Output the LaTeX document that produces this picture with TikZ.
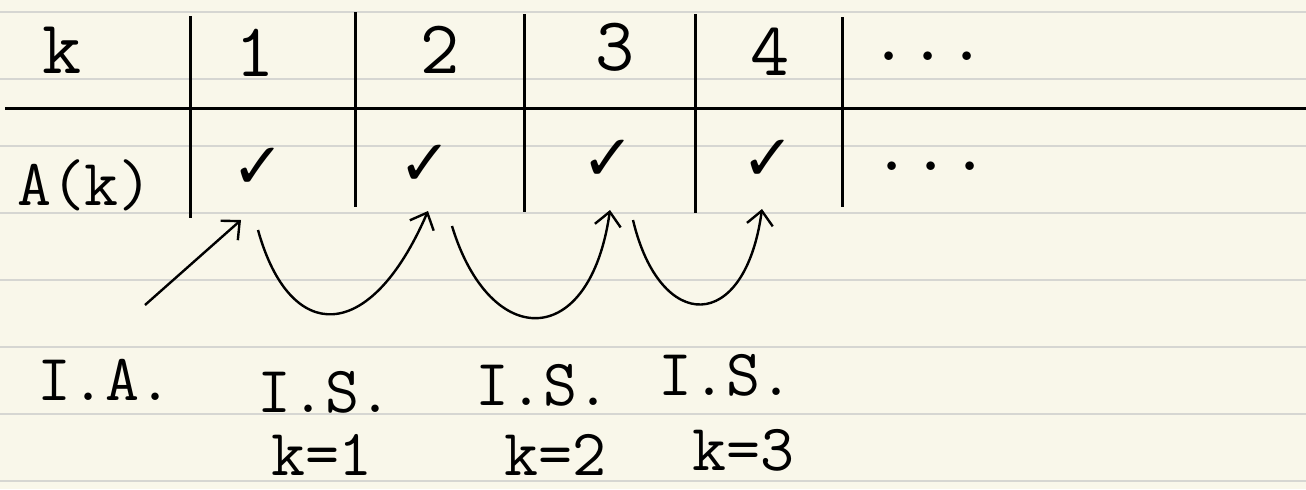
\documentclass[tikz,border=0pt]{standalone}
\usepackage{fontspec}
\newfontfamily\symfont{DejaVu Sans}
\usetikzlibrary{arrows.meta}
\definecolor{paper}{RGB}{249,247,234}
\definecolor{rule}{RGB}{214,214,210}
\tikzset{
  grid line/.style={line width=1.5pt, black},
  hand/.style={font=\ttfamily\fontsize{38}{42}\selectfont, inner sep=0pt},
  small hand/.style={font=\ttfamily\fontsize{33}{36}\selectfont, inner sep=0pt},
  tick/.style={font=\symfont\fontsize{32}{36}\selectfont, inner sep=0pt},
  jump/.style={line width=1.2pt, -{Straight Barb[length=7pt,width=13pt,line width=1.2pt]}}
}
\begin{document}
\begin{tikzpicture}[x=0.5pt, y=-0.5pt]
  % paper
  \fill[paper] (0,0) rectangle (1306,489);
  \useasboundingbox (0,0) rectangle (1306,489);
  \foreach \y in {11.5,78.5,145.5,212.5,280,347,413.5,480.5}
    \draw[rule, line width=1pt] (0,\y) -- (1306,\y);
  % table frame
  \draw[grid line] (5,108) -- (1306,108);
  \draw[grid line] (190,16) -- (190,218);
  \draw[grid line] (355,12) -- (355,207);
  \draw[grid line] (524,14) -- (524,212);
  \draw[grid line] (695,14) -- (695,213);
  \draw[grid line] (842,17) -- (842,207);
  % header row
  \node[hand] (hk) at (62,50) {k};
  \node[hand] (h1) at (255,53) {1};
  \node[hand] (h2) at (440,50) {2};
  \node[hand] (h3) at (615,47) {3};
  \node[hand] (h4) at (770,52) {4};
  \node[hand, anchor=base] (hdots) at (928,60) {...};
  % value row
  \node[hand, font=\ttfamily\fontsize{33}{36}\selectfont] (ak) at (85,185) {A(k)};
  \node[tick] (c1) at (258,168) {✓};
  \node[tick] (c2) at (425,165) {✓};
  \node[tick] (c3) at (608,160) {✓};
  \node[tick] (c4) at (768,160) {✓};
  \node[hand, anchor=base] (adots) at (931,170) {...};
  % labels below
  \node[small hand] (ia) at (105,380) {I.A.};
  \node[small hand] (is1) at (325,392) {I.S.};
  \node[small hand] (is2) at (543,385) {I.S.};
  \node[small hand] (is3) at (726,375) {I.S.};
  \node[small hand] (k1) at (322,455) {k=1};
  \node[small hand] (k2) at (555,455) {k=2};
  \node[small hand] (k3) at (743,450) {k=3};
  % arrow ends
  \coordinate (a0) at (145,305);
  \coordinate (a1) at (241,220);
  \coordinate (b0) at (258,230);
  \coordinate (b1) at (428,211);
  \coordinate (d0) at (452,226);
  \coordinate (d1) at (610,210);
  \coordinate (e0) at (633,220);
  \coordinate (e1) at (762,209);
  % base case and steps
  \draw[jump] (a0) -- (a1);
  \draw[jump] (b0) .. controls (290,345) and (370,345) .. (b1);
  \draw[jump] (d0) .. controls (490,351) and (590,351) .. (d1);
  \draw[jump] (e0) .. controls (660,334) and (745,334) .. (e1);
\end{tikzpicture}
\end{document}
